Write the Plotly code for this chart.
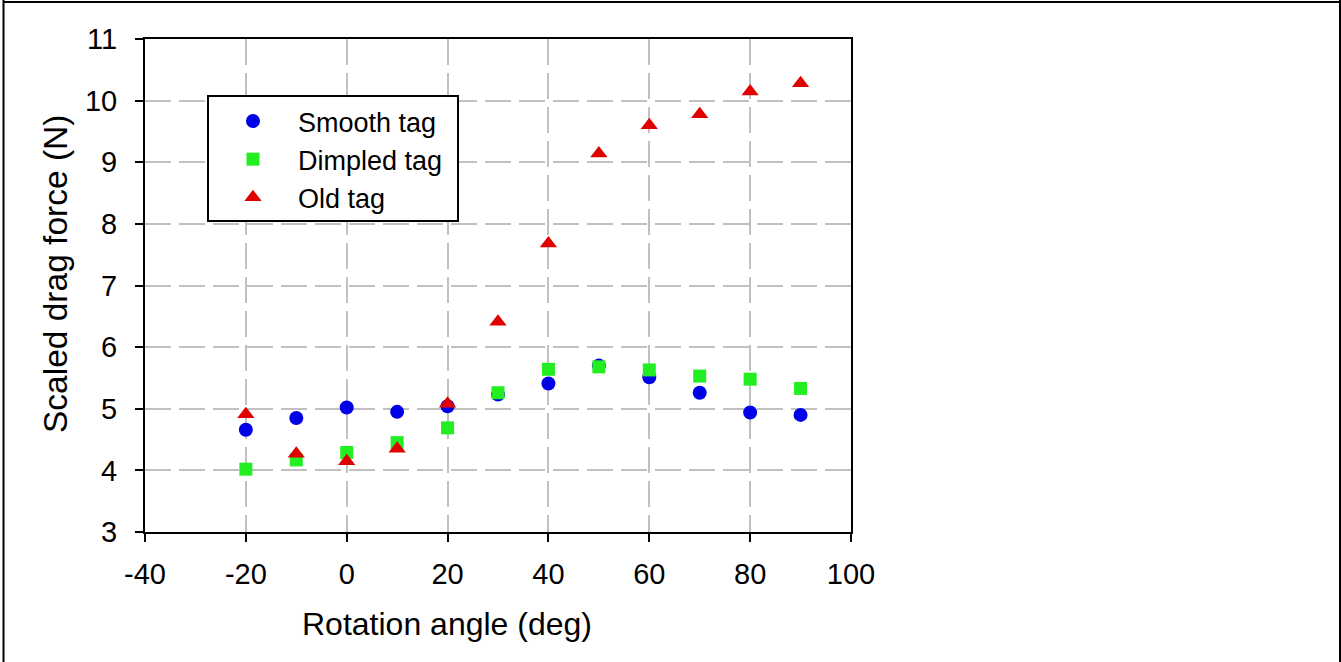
import plotly.graph_objects as go

# Rotation angle (deg) and scaled drag force (N) for each tag type
angles = [-20, -10, 0, 10, 20, 30, 40, 50, 60, 70, 80, 90]
smooth_tag = [4.66, 4.85, 5.02, 4.95, 5.04, 5.23, 5.41, 5.70, 5.51, 5.26, 4.94, 4.90]
dimpled_tag = [4.02, 4.17, 4.29, 4.45, 4.69, 5.26, 5.64, 5.68, 5.63, 5.53, 5.48, 5.33]
old_tag = [4.91, 4.27, 4.15, 4.35, 5.08, 6.41, 7.68, 9.14, 9.60, 9.78, 10.15, 10.28]

x_ticks = [-40, -20, 0, 20, 40, 60, 80, 100]
x_tick_labels = ["-40", "-20", "0", "20", "40", "60", "80", "100"]
y_ticks = [3, 4, 5, 6, 7, 8, 9, 10, 11]
y_tick_labels = ["3", "4", "5", "6", "7", "8", "9", "10", "11"]

W, H = 1341, 662
L, R, T, B = 145, 490, 39, 130
PW, PH = W - L - R, H - T - B


def px(x):
    return (x - L) / PW


def py(y):
    return (H - B - y) / PH


FONT = "Liberation Sans, Arial, sans-serif"

fig = go.Figure()
fig.add_trace(go.Scatter(x=angles, y=smooth_tag, mode="markers", name="Smooth tag",
                         marker=dict(symbol="circle", size=14, color="#0000e6")))
fig.add_trace(go.Scatter(x=angles, y=dimpled_tag, mode="markers", name="Dimpled tag",
                         marker=dict(symbol="square", size=13, color="#22ee22")))
fig.add_trace(go.Scatter(x=angles, y=old_tag, mode="markers", name="Old tag",
                         marker=dict(symbol="triangle-up", size=15, color="#e00000")))

axis_common = dict(
    showline=True, linecolor="black", linewidth=2, mirror=True,
    ticks="outside", ticklen=8, tickwidth=2, tickcolor="black",
    showgrid=True, gridcolor="#c0c0c0", gridwidth=2, griddash="26px,8px",
    zeroline=False, tickfont=dict(family=FONT, size=29, color="black"),
)

fig.update_xaxes(range=[-40, 100], tickvals=x_ticks, ticktext=x_tick_labels,
                 ticklabelstandoff=7, **axis_common)
fig.update_yaxes(range=[3, 11], tickvals=y_ticks, ticktext=y_tick_labels,
                 ticklabelstandoff=12, **axis_common)

# Axis titles
fig.add_annotation(text="Rotation angle (deg)", x=px(447), y=py(624), xref="paper", yref="paper",
                   xanchor="center", yanchor="middle", showarrow=False,
                   font=dict(family=FONT, size=32, color="black"))
fig.add_annotation(text="Scaled drag force (N)", x=px(55), y=py(274), xref="paper", yref="paper",
                   xanchor="center", yanchor="middle", showarrow=False, textangle=-90,
                   font=dict(family=FONT, size=33.5, color="black"))

# Outer frame (left, top, right)
frame = dict(type="line", xref="paper", yref="paper", line=dict(color="black", width=2))
fig.add_shape(x0=px(3.5), x1=px(3.5), y0=py(0), y1=py(H), **frame)
fig.add_shape(x0=px(3), x1=px(1341), y0=py(2), y1=py(2), **frame)
fig.add_shape(x0=px(1340), x1=px(1340), y0=py(0), y1=py(H), **frame)

# Legend box
fig.add_shape(type="rect", xref="paper", yref="paper", layer="above",
              x0=px(208), x1=px(458), y0=py(221), y1=py(96),
              fillcolor="white", line=dict(color="black", width=2))

fig.update_layout(
    width=W, height=H, autosize=False,
    margin=dict(l=L, r=R, t=T, b=B, pad=0),
    paper_bgcolor="white", plot_bgcolor="white",
    showlegend=True,
    legend=dict(
        x=px(208), y=py(97), xanchor="left", yanchor="top",
        bgcolor="rgba(0,0,0,0)", borderwidth=0,
        font=dict(family=FONT, size=27, color="black"),
        indentation=0, itemwidth=80,
    ),
)

fig.write_html("out.html")
